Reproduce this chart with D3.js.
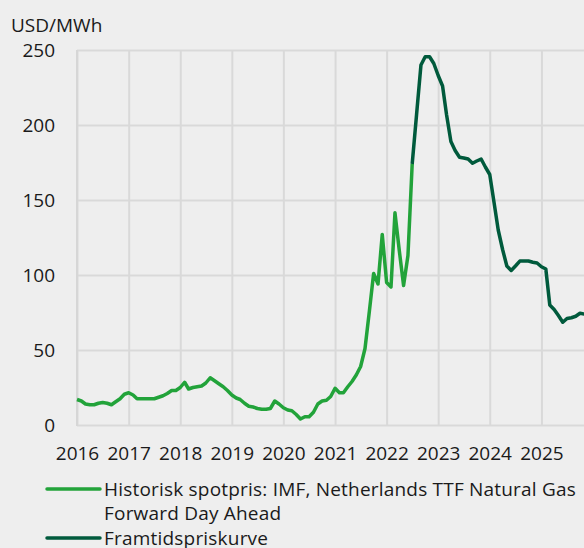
<!DOCTYPE html>
<html>
<head>
<meta charset="utf-8">
<script src="https://cdn.jsdelivr.net/npm/d3@7"></script>
<style>
  html, body { margin: 0; padding: 0; background: #eeeeee; }
  svg { display: block; }
  text { font-family: "Open Sans", "Noto Sans", sans-serif; fill: #1a1a1a; }
</style>
</head>
<body>
<svg id="chart"></svg>
<script>
// monthly, starting 2016-01
const historicStart = "2016-01";
const historic = [
  17, 16, 14, 13.5, 13.5, 14.5, 15, 14.5, 13.5, 15.5, 17.5, 20.5,
  21.5, 20, 17.5, 17.5, 17.5, 17.5, 17.5, 18.5, 19.5, 21, 23, 23,
  25, 28.5, 24, 25, 25.5, 26, 28, 31.5, 29.5, 27.5, 25.5, 23,
  20, 18, 17, 14.5, 12.5, 12, 11, 10.5, 10.5, 11, 16, 14,
  11.5, 10, 9.5, 7, 4, 5.5, 5.5, 8.5, 14, 16, 16.5, 19,
  24.5, 21.5, 21.5, 25.5, 29, 33.5, 39, 51, 76, 101, 94, 127,
  95, 92, 141.5, 116, 93, 113, 174
];
// monthly, starting 2022-07
const forwardStart = "2022-07";
const forward = [
  174, 207, 240, 245.5, 245.5, 241,
  233, 226, 207, 189, 183, 178.5, 178, 177.3, 174.5, 176, 177.3, 172,
  167, 148, 130, 117, 106, 103, 106, 109.3, 109.3, 109.3, 108.5, 108,
  105.5, 104, 80, 77, 73, 68.5, 71, 71.5, 72.5, 74.5, 74
];
const yearTicks = [2016, 2017, 2018, 2019, 2020, 2021, 2022, 2023, 2024, 2025, 2026];
const yTicks = [0, 50, 100, 150, 200, 250];
const unitLabel = "USD/MWh";
const legendItems = [
  { lines: ["Historisk spotpris: IMF, Netherlands TTF Natural Gas", "Forward Day Ahead"], color: "#22a33a" },
  { lines: ["Framtidspriskurve"], color: "#005a3c" }
];

const W = 584, H = 548;
const margin = { top: 50, left: 77, bottom: 123 };
const fontSize = "19px";
const svg = d3.select("#chart").attr("width", W).attr("height", H);

const parse = d3.timeParse("%Y-%m");
const toSeries = (start, vals) => {
  const t0 = parse(start);
  return vals.map((v, i) => ({ date: d3.timeMonth.offset(t0, i), value: v }));
};
const histData = toSeries(historicStart, historic);
const fwdData = toSeries(forwardStart, forward);

const x = d3.scaleTime()
  .domain([new Date(2016, 0, 1), new Date(2026, 0, 1)])
  .range([margin.left, margin.left + 516]);
const y = d3.scaleLinear().domain([0, 250]).range([H - margin.bottom, margin.top]);

const yearDates = yearTicks.map(yr => new Date(yr, 0, 1));

// grid
const grid = svg.append("g");
grid.append("g")
  .attr("transform", `translate(0,${y(0)})`)
  .call(d3.axisBottom(x).tickValues(yearDates).tickSize(-(y(0) - y(250))).tickFormat(""))
  .call(g => g.select(".domain").remove());
grid.append("g")
  .attr("transform", `translate(${margin.left},0)`)
  .call(d3.axisLeft(y).tickValues(yTicks).tickSize(-(W + 20 - margin.left)).tickFormat(""))
  .call(g => g.select(".domain").remove());
grid.selectAll("line").attr("stroke", "#d9d9d9").attr("stroke-width", 2);

// axis lines
svg.append("line")
  .attr("x1", margin.left).attr("x2", margin.left)
  .attr("y1", y(250)).attr("y2", y(0) + 1)
  .attr("stroke", "#d6d6d6").attr("stroke-width", 2);

// tick labels
const xAxis = svg.append("g")
  .attr("transform", `translate(0,${y(0)})`)
  .call(d3.axisBottom(x).tickValues(yearDates.slice(0, 10)).tickSize(0).tickPadding(22).tickFormat(d3.timeFormat("%Y")));
xAxis.select(".domain").remove();
xAxis.selectAll("text").style("font-size", fontSize).attr("fill", "#1a1a1a").attr("font-family", null);

const yAxis = svg.append("g")
  .attr("transform", `translate(${margin.left - 22},0)`)
  .call(d3.axisLeft(y).tickValues(yTicks).tickSize(0).tickPadding(0));
yAxis.select(".domain").remove();
yAxis.selectAll("text").style("font-size", fontSize).attr("fill", "#1a1a1a").attr("font-family", null);

svg.append("text")
  .attr("x", 11).attr("y", 32)
  .style("font-size", fontSize)
  .text(unitLabel);

// lines
const line = d3.line().x(d => x(d.date)).y(d => y(d.value));
svg.append("path").datum(histData)
  .attr("fill", "none").attr("stroke", legendItems[0].color)
  .attr("stroke-width", 3.5).attr("stroke-linejoin", "round")
  .attr("d", line);
svg.append("path").datum(fwdData)
  .attr("fill", "none").attr("stroke", legendItems[1].color)
  .attr("stroke-width", 3.5).attr("stroke-linejoin", "round")
  .attr("d", line);

// legend
const legendY = [489, 538];
legendItems.forEach((item, i) => {
  const g = svg.append("g").attr("transform", `translate(0,${legendY[i]})`);
  g.append("line")
    .attr("x1", 47).attr("x2", 100)
    .attr("stroke", item.color).attr("stroke-width", 3.5).attr("stroke-linecap", "round");
  item.lines.forEach((t, j) => {
    g.append("text")
      .attr("x", 104).attr("y", j * 24.5).attr("dy", "0.35em")
      .style("font-size", fontSize)
      .style("letter-spacing", "0.2px")
      .text(t);
  });
});
</script>
</body>
</html>
